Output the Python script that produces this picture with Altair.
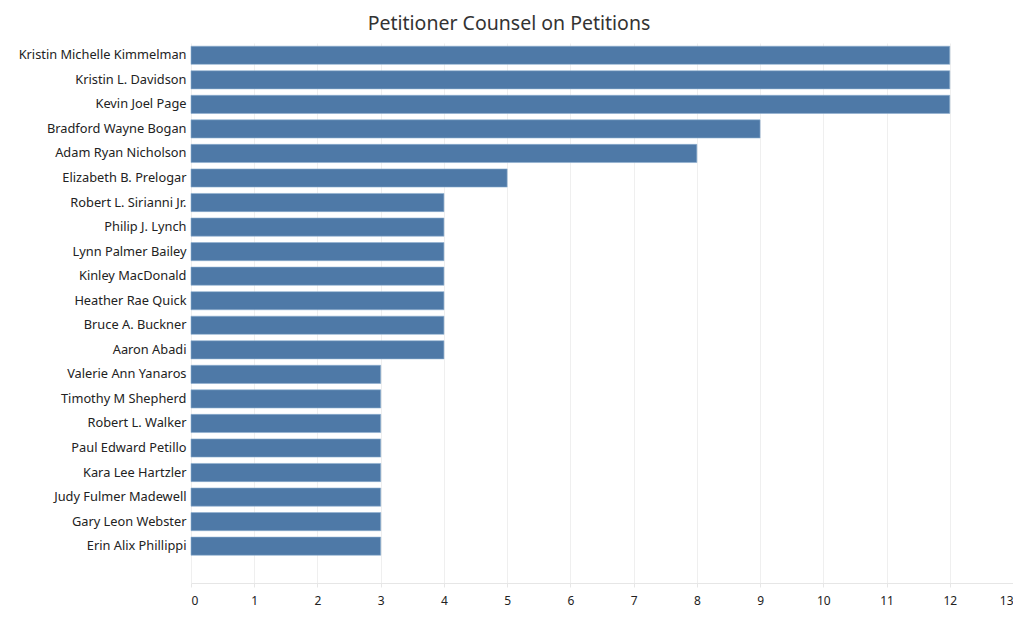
import altair as alt
import pandas as pd

names = [
    "Kristin Michelle Kimmelman", "Kristin L. Davidson", "Kevin Joel Page",
    "Bradford Wayne Bogan", "Adam Ryan Nicholson", "Elizabeth B. Prelogar",
    "Robert L. Sirianni Jr.", "Philip J. Lynch", "Lynn Palmer Bailey",
    "Kinley MacDonald", "Heather Rae Quick", "Bruce A. Buckner", "Aaron Abadi",
    "Valerie Ann Yanaros", "Timothy M Shepherd", "Robert L. Walker",
    "Paul Edward Petillo", "Kara Lee Hartzler", "Judy Fulmer Madewell",
    "Gary Leon Webster", "Erin Alix Phillippi",
]
counts = [12, 12, 12, 9, 8, 5, 4, 4, 4, 4, 4, 4, 4, 3, 3, 3, 3, 3, 3, 3, 3]

df = pd.DataFrame({"name": names, "count": counts})

font = "Noto Sans"

chart = alt.Chart(df).mark_bar(
    color="#4e79a7", stroke="#8fb0d0", strokeWidth=0.6
).encode(
    x=alt.X("count:Q",
            scale=alt.Scale(domain=[0, 13], nice=False, zero=True),
            axis=alt.Axis(title=None, values=list(range(0, 14)), grid=True,
                          gridColor="#efefef", domainColor="#e6e6e6",
                          tickColor="#e6e6e6", tickSize=4, labelFlush=True,
                          labelFontSize=12, labelColor="#222", labelFont=font,
                          labelPadding=8)),
    y=alt.Y("name:N",
            scale=alt.Scale(domain=names + [""], paddingInner=0.26, paddingOuter=0.13),
            sort=None,
            axis=alt.Axis(title=None, ticks=False, domain=False,
                          labelFontSize=12.8, labelColor="#222", labelFont=font,
                          labelPadding=5, labelLimit=300)),
).properties(
    width=822, height=540,
    padding={"left": 183, "top": 35, "right": 0, "bottom": 30},
    autosize=alt.AutoSizeParams(type="none"),
    title=alt.TitleParams("Petitioner Counsel on Petitions", anchor="middle",
                          frame="group", dx=-93, fontSize=19.5, font=font,
                          fontWeight="normal", color="#333", offset=9),
).configure_view(stroke=None)

chart.save("out.html", embed_options={"renderer": "svg", "actions": False})
